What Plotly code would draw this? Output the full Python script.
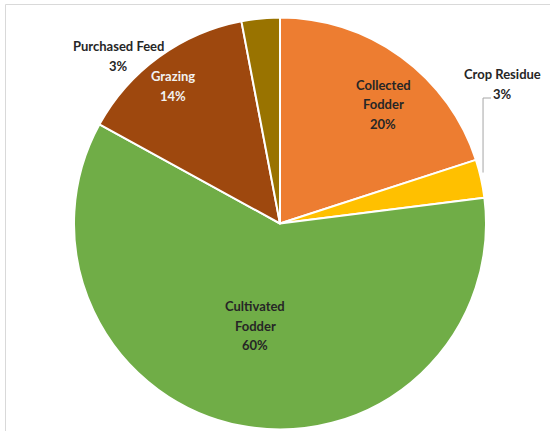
import math
import plotly.graph_objects as go

# Feed sources (share of total, %), listed clockwise from 12 o'clock
sources = ["Collected Fodder", "Crop Residue", "Cultivated Fodder", "Grazing", "Purchased Feed"]
shares = [20, 3, 60, 14, 3]
colors = ["#ED7D31", "#FFC000", "#70AD47", "#9E480E", "#997300"]

# Label text (line breaks) and label colours per slice
label_lines = [["Collected", "Fodder"], ["Crop Residue"], ["Cultivated", "Fodder"], ["Grazing"], ["Purchased Feed"]]
label_colors = ["#262626", "#262626", "#262626", "#F2F2F2", "#262626"]

W, H = 550, 431
CX, CY, R = 280, 223.5, 206  # pie centre / radius in pixels
LINE_GAP = 19.5               # vertical spacing between label lines

# label anchor positions in pixels (centre of the first text line)
label_pos = [(383, 85), (502, 74), (255, 306), (173, 76), (118, 46)]

fig = go.Figure(go.Pie(
    labels=sources,
    values=shares,
    sort=False,
    direction="clockwise",
    rotation=0,
    marker=dict(colors=colors, line=dict(color="white", width=2)),
    textinfo="none",
    hoverinfo="label+percent",
    showlegend=False,
    domain=dict(x=[(CX - R) / W, (CX + R) / W], y=[(H - CY - R) / H, (H - CY + R) / H]),
))

def px(x, y):
    return x / W, 1 - y / H

total = sum(shares)
annotations = []
for name, lines, val, col, (lx, ly) in zip(sources, label_lines, shares, label_colors, label_pos):
    pct = round(100 * val / total)
    for i, line in enumerate(lines + [f"{pct}%"]):
        ax, ay = px(lx, ly + i * LINE_GAP)
        annotations.append(dict(
            x=ax, y=ay, xref="paper", yref="paper", text=line, showarrow=False,
            font=dict(family="Lato", size=13, color=col, weight="bold"), align="center",
            xanchor="center", yanchor="middle",
        ))

# leader line for the Crop Residue slice
start = sum(shares[:1])
mid = (start + shares[1] / 2) / total * 2 * math.pi
ex, ey = CX + R * math.sin(mid), CY - R * math.cos(mid)
x0, y0 = px(ex + 2, ey - 6)
x1, y1 = px(ex + 2, 98)
x2, y2 = px(ex + 10, 98)
shapes = [
    dict(type="path", xref="paper", yref="paper",
         path=f"M {x0} {y0} L {x1} {y1} L {x2} {y2}",
         line=dict(color="#A6A6A6", width=1)),
    # chart frame
    dict(type="line", xref="paper", yref="paper", x0=5.5 / W, x1=1.02, y0=1 - 4.5 / H, y1=1 - 4.5 / H,
         line=dict(color="#D9D9D9", width=1)),
    dict(type="line", xref="paper", yref="paper", x0=5.5 / W, x1=5.5 / W, y0=-0.02, y1=1 - 4.5 / H,
         line=dict(color="#D9D9D9", width=1)),
]

fig.update_layout(
    width=W, height=H,
    margin=dict(l=0, r=0, t=0, b=0),
    paper_bgcolor="white", plot_bgcolor="white",
    annotations=annotations, shapes=shapes,
)

fig.write_html("out.html")
